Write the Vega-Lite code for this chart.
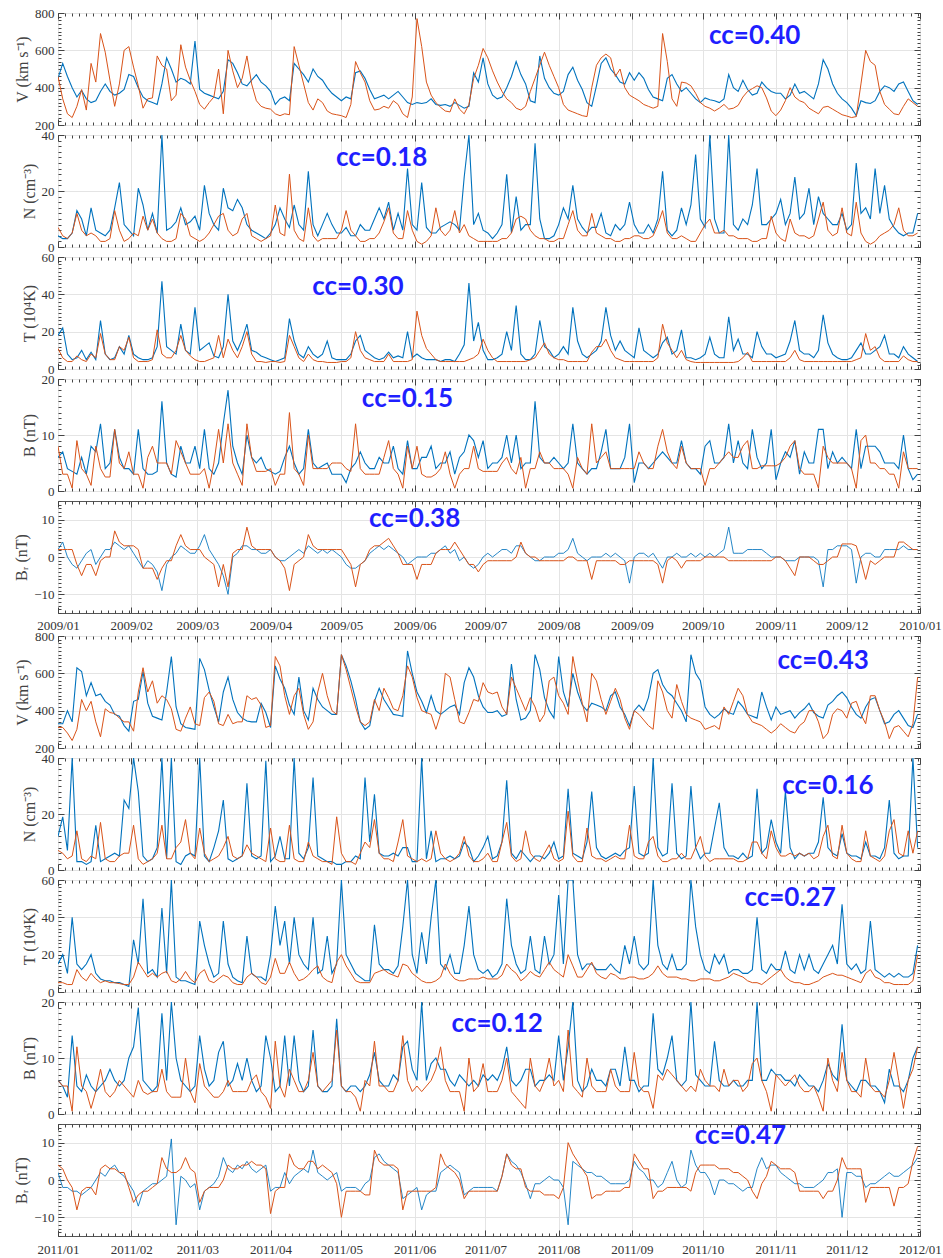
{
"$schema":"https://vega.github.io/schema/vega-lite/v6.json",
"padding":{"left":13,"top":6,"right":0,"bottom":0},
"background":"white",
"spacing":10,
"bounds":"flush",
"config":{
 "font":"Liberation Serif",
 "view":{"stroke":"#555555","strokeWidth":1},
 "axis":{"labelFont":"Liberation Serif","labelFontSize":13,"labelColor":"#333333","titleFont":"Liberation Serif","titleFontSize":16,"titleFontWeight":"normal","titleColor":"#444444","tickColor":"#444444","gridColor":"#e4e4e4","domain":false,"labelFlush":false,"labelOverlap":false,"labelBound":false,"titlePadding":4}
},
"datasets":{
"a":[
{"t":"2009-01-01","V":450,"v":460,"N":4,"n":7,"T":18,"k":11,"B":6,"b":8,"R":2,"r":2},
{"t":"2009-01-03","V":530,"v":340,"N":3,"n":4,"T":22,"k":6,"B":7,"b":3,"R":4,"r":2},
{"t":"2009-01-05","V":460,"v":260,"N":3,"n":3,"T":8,"k":4,"B":4,"b":3,"R":0,"r":2},
{"t":"2009-01-07","V":400,"v":240,"N":5,"n":5,"T":5,"k":4,"B":3.5,"b":0.5,"R":-2,"r":2},
{"t":"2009-01-09","V":350,"v":300,"N":13,"n":12,"T":6,"k":7,"B":3,"b":9,"R":-3,"r":-2},
{"t":"2009-01-11","V":385,"v":390,"N":10,"n":6,"T":10,"k":5,"B":6,"b":4,"R":-1,"r":-5},
{"t":"2009-01-13","V":340,"v":280,"N":4,"n":4,"T":5,"k":4,"B":3,"b":3,"R":1,"r":-2},
{"t":"2009-01-15","V":320,"v":530,"N":14,"n":5,"T":9,"k":8,"B":8,"b":1,"R":2,"r":-2},
{"t":"2009-01-17","V":330,"v":430,"N":6,"n":4,"T":5,"k":6,"B":7,"b":8,"R":-2,"r":-5},
{"t":"2009-01-19","V":380,"v":690,"N":5,"n":2,"T":26,"k":19,"B":12,"b":4,"R":0,"r":-1},
{"t":"2009-01-21","V":420,"v":590,"N":4,"n":2,"T":8,"k":8,"B":4,"b":2.5,"R":2,"r":0},
{"t":"2009-01-23","V":380,"v":440,"N":6,"n":3,"T":5,"k":5,"B":5,"b":2.5,"R":2,"r":0},
{"t":"2009-01-25","V":360,"v":300,"N":14,"n":13,"T":6,"k":5,"B":11,"b":11,"R":4,"r":7},
{"t":"2009-01-27","V":370,"v":420,"N":23,"n":6,"T":12,"k":12,"B":6,"b":5,"R":3,"r":4},
{"t":"2009-01-29","V":390,"v":600,"N":8,"n":2,"T":8,"k":10,"B":4,"b":4,"R":2,"r":3},
{"t":"2009-01-31","V":470,"v":620,"N":6,"n":3,"T":18,"k":17,"B":4,"b":7,"R":3,"r":3},
{"t":"2009-02-02","V":460,"v":510,"N":4,"n":5,"T":8,"k":6,"B":3,"b":3,"R":1,"r":3},
{"t":"2009-02-04","V":400,"v":410,"N":21,"n":4,"T":6,"k":4,"B":11,"b":3,"R":-1,"r":2},
{"t":"2009-02-06","V":350,"v":290,"N":15,"n":11,"T":5,"k":4,"B":4,"b":0.5,"R":-3,"r":-3},
{"t":"2009-02-08","V":330,"v":340,"N":6,"n":6,"T":5,"k":4,"B":3,"b":6,"R":-1,"r":-3},
{"t":"2009-02-10","V":320,"v":345,"N":12,"n":10,"T":6,"k":5,"B":3,"b":8,"R":-2,"r":-3},
{"t":"2009-02-12","V":310,"v":570,"N":5,"n":5,"T":12,"k":21,"B":3.5,"b":5,"R":-4,"r":-6},
{"t":"2009-02-14","V":420,"v":520,"N":40,"n":3,"T":47,"k":8,"B":16,"b":5,"R":-9,"r":-3},
{"t":"2009-02-16","V":560,"v":500,"N":6,"n":2,"T":12,"k":6,"B":5,"b":5,"R":-2,"r":-1},
{"t":"2009-02-18","V":500,"v":330,"N":7,"n":2,"T":10,"k":6,"B":3,"b":3,"R":0,"r":-1},
{"t":"2009-02-20","V":430,"v":360,"N":9,"n":3,"T":8,"k":10,"B":2.5,"b":9,"R":1,"r":3},
{"t":"2009-02-22","V":450,"v":630,"N":14,"n":12,"T":24,"k":18,"B":8,"b":7,"R":3,"r":6},
{"t":"2009-02-24","V":440,"v":510,"N":8,"n":10,"T":10,"k":10,"B":5,"b":5,"R":2,"r":3},
{"t":"2009-02-26","V":420,"v":440,"N":9,"n":4,"T":8,"k":7,"B":5,"b":3,"R":1,"r":2},
{"t":"2009-02-28","V":650,"v":380,"N":11,"n":3,"T":33,"k":5,"B":8,"b":3,"R":1,"r":2},
{"t":"2009-03-02","V":390,"v":310,"N":6,"n":2,"T":10,"k":4,"B":4,"b":3,"R":3,"r":2},
{"t":"2009-03-04","V":370,"v":285,"N":22,"n":3,"T":12,"k":4,"B":11,"b":4,"R":6,"r":0},
{"t":"2009-03-06","V":360,"v":320,"N":12,"n":5,"T":14,"k":5,"B":4,"b":0.5,"R":2,"r":-1},
{"t":"2009-03-08","V":350,"v":350,"N":8,"n":8,"T":7,"k":6,"B":3,"b":5,"R":0,"r":-2},
{"t":"2009-03-10","V":340,"v":500,"N":6,"n":11,"T":6,"k":18,"B":5,"b":11,"R":-2,"r":-8},
{"t":"2009-03-12","V":380,"v":260,"N":21,"n":12,"T":12,"k":6,"B":12,"b":5,"R":-5,"r":-2},
{"t":"2009-03-14","V":550,"v":600,"N":14,"n":6,"T":40,"k":16,"B":18,"b":12,"R":-10,"r":-8},
{"t":"2009-03-16","V":530,"v":490,"N":13,"n":4,"T":15,"k":10,"B":8,"b":5,"R":0,"r":1},
{"t":"2009-03-18","V":480,"v":400,"N":17,"n":5,"T":10,"k":6,"B":5,"b":3,"R":1,"r":2},
{"t":"2009-03-20","V":420,"v":450,"N":14,"n":10,"T":16,"k":12,"B":3,"b":1,"R":3,"r":2},
{"t":"2009-03-22","V":410,"v":570,"N":8,"n":12,"T":24,"k":20,"B":10,"b":12,"R":3,"r":8},
{"t":"2009-03-24","V":440,"v":420,"N":6,"n":4,"T":10,"k":8,"B":6,"b":6,"R":2,"r":3},
{"t":"2009-03-26","V":470,"v":330,"N":5,"n":3,"T":9,"k":4,"B":5,"b":3.5,"R":2,"r":2},
{"t":"2009-03-28","V":430,"v":300,"N":4,"n":2,"T":7,"k":4,"B":6,"b":3.5,"R":1,"r":2},
{"t":"2009-03-30","V":410,"v":290,"N":3,"n":3,"T":6,"k":3.5,"B":4,"b":3.5,"R":1,"r":2},
{"t":"2009-04-01","V":380,"v":285,"N":5,"n":4,"T":5,"k":4,"B":3.5,"b":4,"R":2,"r":2},
{"t":"2009-04-03","V":310,"v":260,"N":8,"n":15,"T":4,"k":4,"B":3,"b":1,"R":0,"r":0},
{"t":"2009-04-05","V":340,"v":250,"N":14,"n":5,"T":5,"k":3.5,"B":3.5,"b":3,"R":-1,"r":-1},
{"t":"2009-04-07","V":350,"v":260,"N":10,"n":4,"T":6,"k":4,"B":6,"b":3,"R":-1,"r":-3},
{"t":"2009-04-09","V":330,"v":255,"N":7,"n":26,"T":27,"k":18,"B":8,"b":14,"R":0,"r":-9},
{"t":"2009-04-11","V":530,"v":620,"N":15,"n":6,"T":15,"k":12,"B":5,"b":4,"R":1,"r":-2},
{"t":"2009-04-13","V":500,"v":520,"N":8,"n":3,"T":8,"k":6,"B":3,"b":3,"R":2,"r":-1},
{"t":"2009-04-15","V":470,"v":420,"N":6,"n":2,"T":6,"k":4,"B":4,"b":1,"R":1,"r":0},
{"t":"2009-04-17","V":430,"v":320,"N":27,"n":14,"T":12,"k":8,"B":11,"b":10,"R":3,"r":6},
{"t":"2009-04-19","V":500,"v":280,"N":8,"n":4,"T":8,"k":5,"B":5,"b":4,"R":2,"r":3},
{"t":"2009-04-21","V":460,"v":340,"N":4,"n":2,"T":6,"k":4,"B":4,"b":4,"R":1,"r":2},
{"t":"2009-04-23","V":440,"v":320,"N":8,"n":3,"T":8,"k":4,"B":4.5,"b":4,"R":2,"r":2},
{"t":"2009-04-25","V":400,"v":275,"N":12,"n":3,"T":15,"k":3.5,"B":5,"b":4,"R":1,"r":2},
{"t":"2009-04-27","V":370,"v":260,"N":8,"n":3,"T":6,"k":3.5,"B":3,"b":5,"R":2,"r":2},
{"t":"2009-04-29","V":350,"v":255,"N":5,"n":3,"T":5,"k":3.5,"B":3,"b":5,"R":1,"r":2},
{"t":"2009-05-01","V":330,"v":250,"N":5,"n":6,"T":5,"k":4,"B":3,"b":5,"R":0,"r":2},
{"t":"2009-05-03","V":350,"v":240,"N":7,"n":13,"T":5,"k":4,"B":1.5,"b":4,"R":-2,"r":0},
{"t":"2009-05-05","V":340,"v":310,"N":4,"n":6,"T":8,"k":6,"B":4,"b":3.5,"R":-3,"r":-2},
{"t":"2009-05-07","V":480,"v":540,"N":4,"n":4,"T":15,"k":20,"B":5,"b":12,"R":-3,"r":-8},
{"t":"2009-05-09","V":490,"v":480,"N":8,"n":2,"T":18,"k":10,"B":7,"b":4,"R":-2,"r":-2},
{"t":"2009-05-11","V":450,"v":430,"N":6,"n":2,"T":10,"k":6,"B":5,"b":3,"R":-1,"r":-1},
{"t":"2009-05-13","V":390,"v":330,"N":6,"n":3,"T":8,"k":5,"B":4,"b":3,"R":1,"r":2},
{"t":"2009-05-15","V":340,"v":280,"N":10,"n":3,"T":6,"k":4,"B":4,"b":3,"R":2,"r":3},
{"t":"2009-05-17","V":350,"v":285,"N":14,"n":5,"T":5,"k":4,"B":6,"b":3,"R":3,"r":3},
{"t":"2009-05-19","V":360,"v":300,"N":10,"n":9,"T":6,"k":4,"B":5,"b":6,"R":2,"r":4},
{"t":"2009-05-21","V":340,"v":290,"N":16,"n":14,"T":9,"k":8,"B":5,"b":9,"R":3,"r":5},
{"t":"2009-05-23","V":360,"v":330,"N":6,"n":5,"T":6,"k":4,"B":8,"b":4,"R":2,"r":3},
{"t":"2009-05-25","V":380,"v":310,"N":12,"n":3,"T":7,"k":4,"B":4,"b":3,"R":1,"r":1},
{"t":"2009-05-27","V":350,"v":260,"N":6,"n":3,"T":6,"k":4,"B":3,"b":0.5,"R":0,"r":-2},
{"t":"2009-05-29","V":320,"v":240,"N":28,"n":13,"T":20,"k":4,"B":9,"b":8,"R":-2,"r":-2},
{"t":"2009-05-31","V":310,"v":350,"N":8,"n":6,"T":6,"k":5,"B":4,"b":4,"R":-1,"r":-2},
{"t":"2009-06-02","V":320,"v":770,"N":6,"n":2,"T":8,"k":31,"B":4,"b":8,"R":0,"r":-6},
{"t":"2009-06-04","V":315,"v":620,"N":23,"n":1,"T":6,"k":18,"B":6,"b":3,"R":0,"r":-2},
{"t":"2009-06-06","V":320,"v":430,"N":7,"n":2,"T":5,"k":11,"B":6,"b":2.5,"R":0,"r":-2},
{"t":"2009-06-08","V":340,"v":360,"N":5,"n":4,"T":5,"k":8,"B":8,"b":2.5,"R":1,"r":-2},
{"t":"2009-06-10","V":310,"v":320,"N":5,"n":14,"T":5,"k":5,"B":4,"b":3,"R":1,"r":1},
{"t":"2009-06-12","V":305,"v":295,"N":7,"n":6,"T":4,"k":4,"B":5,"b":4,"R":2,"r":2},
{"t":"2009-06-14","V":310,"v":275,"N":8,"n":4,"T":5,"k":4,"B":5,"b":7,"R":3,"r":2},
{"t":"2009-06-16","V":300,"v":270,"N":9,"n":6,"T":5,"k":4,"B":7,"b":3,"R":1,"r":2},
{"t":"2009-06-18","V":320,"v":340,"N":8,"n":13,"T":4,"k":4,"B":3,"b":0.5,"R":2,"r":4},
{"t":"2009-06-20","V":305,"v":285,"N":6,"n":5,"T":8,"k":4,"B":6,"b":3,"R":-1,"r":2},
{"t":"2009-06-22","V":290,"v":260,"N":25,"n":8,"T":13,"k":4,"B":7,"b":4,"R":0,"r":0},
{"t":"2009-06-24","V":300,"v":310,"N":40,"n":4,"T":46,"k":5,"B":10,"b":4,"R":-2,"r":-2},
{"t":"2009-06-26","V":480,"v":450,"N":8,"n":3,"T":15,"k":6,"B":9,"b":8,"R":-3,"r":-2},
{"t":"2009-06-28","V":430,"v":520,"N":12,"n":2,"T":25,"k":8,"B":6,"b":4,"R":-2,"r":-4},
{"t":"2009-06-30","V":560,"v":610,"N":6,"n":2,"T":10,"k":16,"B":9,"b":3.5,"R":0,"r":-2},
{"t":"2009-07-02","V":420,"v":560,"N":5,"n":2,"T":5,"k":10,"B":4,"b":3.5,"R":1,"r":-1},
{"t":"2009-07-04","V":360,"v":490,"N":3,"n":2,"T":5,"k":6,"B":5,"b":3.5,"R":0,"r":-1},
{"t":"2009-07-06","V":340,"v":430,"N":5,"n":2,"T":6,"k":4,"B":5,"b":3.5,"R":1,"r":-1},
{"t":"2009-07-08","V":350,"v":380,"N":8,"n":3,"T":8,"k":4,"B":6,"b":5,"R":2,"r":-1},
{"t":"2009-07-10","V":400,"v":340,"N":26,"n":3,"T":20,"k":4,"B":10,"b":6,"R":2,"r":-1},
{"t":"2009-07-12","V":460,"v":320,"N":5,"n":5,"T":10,"k":4,"B":5,"b":4,"R":1,"r":-1},
{"t":"2009-07-14","V":540,"v":290,"N":18,"n":10,"T":34,"k":4,"B":10,"b":3,"R":3,"r":0},
{"t":"2009-07-16","V":470,"v":280,"N":6,"n":11,"T":8,"k":4,"B":4,"b":6,"R":3,"r":4},
{"t":"2009-07-18","V":420,"v":300,"N":8,"n":10,"T":5,"k":4,"B":5,"b":0.5,"R":1,"r":1},
{"t":"2009-07-20","V":330,"v":380,"N":8,"n":6,"T":5,"k":5,"B":5,"b":4,"R":0,"r":0},
{"t":"2009-07-22","V":320,"v":450,"N":37,"n":4,"T":8,"k":6,"B":16,"b":4,"R":-1,"r":0},
{"t":"2009-07-24","V":570,"v":520,"N":10,"n":3,"T":26,"k":10,"B":6,"b":7,"R":-1,"r":-1},
{"t":"2009-07-26","V":450,"v":590,"N":3,"n":3,"T":12,"k":14,"B":5,"b":5,"R":0,"r":-1},
{"t":"2009-07-28","V":400,"v":520,"N":3,"n":2,"T":10,"k":8,"B":5,"b":5,"R":0,"r":-1},
{"t":"2009-07-30","V":370,"v":460,"N":4,"n":2,"T":6,"k":6,"B":6,"b":4,"R":0,"r":-1},
{"t":"2009-08-01","V":360,"v":400,"N":8,"n":3,"T":8,"k":5,"B":5,"b":4,"R":1,"r":-1},
{"t":"2009-08-03","V":380,"v":310,"N":14,"n":3,"T":12,"k":5,"B":4,"b":4,"R":1,"r":-1},
{"t":"2009-08-05","V":470,"v":280,"N":10,"n":8,"T":8,"k":4,"B":5,"b":3,"R":2,"r":0},
{"t":"2009-08-07","V":510,"v":270,"N":22,"n":13,"T":33,"k":4,"B":12,"b":0.5,"R":5,"r":0},
{"t":"2009-08-09","V":440,"v":260,"N":10,"n":6,"T":15,"k":4,"B":5,"b":6,"R":1,"r":-1},
{"t":"2009-08-11","V":390,"v":250,"N":7,"n":4,"T":8,"k":4,"B":4,"b":4,"R":0,"r":-1},
{"t":"2009-08-13","V":320,"v":245,"N":5,"n":4,"T":6,"k":4,"B":3,"b":3,"R":-1,"r":-1},
{"t":"2009-08-15","V":300,"v":400,"N":7,"n":12,"T":8,"k":9,"B":4,"b":12,"R":0,"r":-6},
{"t":"2009-08-17","V":410,"v":520,"N":7,"n":5,"T":10,"k":12,"B":4,"b":5,"R":0,"r":-1},
{"t":"2009-08-19","V":530,"v":560,"N":12,"n":4,"T":15,"k":12,"B":7,"b":6,"R":0,"r":-1},
{"t":"2009-08-21","V":560,"v":580,"N":5,"n":3,"T":33,"k":16,"B":11,"b":7,"R":1,"r":-1},
{"t":"2009-08-23","V":500,"v":560,"N":4,"n":3,"T":18,"k":10,"B":4,"b":4,"R":0,"r":-1},
{"t":"2009-08-25","V":470,"v":460,"N":8,"n":2,"T":10,"k":6,"B":4,"b":4,"R":1,"r":-1},
{"t":"2009-08-27","V":430,"v":500,"N":6,"n":2,"T":15,"k":5,"B":4,"b":4,"R":0,"r":-2},
{"t":"2009-08-29","V":420,"v":400,"N":8,"n":3,"T":10,"k":4,"B":6,"b":4,"R":-1,"r":-2},
{"t":"2009-08-31","V":480,"v":360,"N":16,"n":3,"T":8,"k":4,"B":12,"b":4,"R":-7,"r":-1},
{"t":"2009-09-02","V":440,"v":345,"N":8,"n":4,"T":6,"k":4,"B":1.5,"b":4,"R":0,"r":-1},
{"t":"2009-09-04","V":480,"v":330,"N":5,"n":4,"T":22,"k":4,"B":5,"b":7,"R":1,"r":-1},
{"t":"2009-09-06","V":450,"v":310,"N":5,"n":3,"T":10,"k":4,"B":5,"b":5,"R":1,"r":-1},
{"t":"2009-09-08","V":390,"v":300,"N":8,"n":3,"T":8,"k":4,"B":4,"b":4,"R":0,"r":-1},
{"t":"2009-09-10","V":350,"v":290,"N":5,"n":4,"T":6,"k":4,"B":5,"b":4,"R":1,"r":-1},
{"t":"2009-09-12","V":340,"v":300,"N":10,"n":8,"T":8,"k":6,"B":6,"b":8,"R":-1,"r":-2},
{"t":"2009-09-14","V":330,"v":690,"N":27,"n":13,"T":14,"k":24,"B":7,"b":11,"R":-3,"r":-7},
{"t":"2009-09-16","V":450,"v":540,"N":6,"n":5,"T":17,"k":14,"B":6,"b":7,"R":0,"r":-1},
{"t":"2009-09-18","V":470,"v":340,"N":4,"n":3,"T":8,"k":10,"B":5,"b":5,"R":0,"r":0},
{"t":"2009-09-20","V":420,"v":300,"N":6,"n":3,"T":10,"k":6,"B":5,"b":4,"R":1,"r":-1},
{"t":"2009-09-22","V":380,"v":430,"N":14,"n":4,"T":21,"k":10,"B":9,"b":8,"R":0,"r":-3},
{"t":"2009-09-24","V":400,"v":425,"N":8,"n":3,"T":6,"k":5,"B":5,"b":5,"R":0,"r":-1},
{"t":"2009-09-26","V":370,"v":410,"N":15,"n":2,"T":6,"k":4,"B":4,"b":4,"R":1,"r":-1},
{"t":"2009-09-28","V":340,"v":370,"N":33,"n":2,"T":5,"k":3.5,"B":4,"b":4,"R":0,"r":-1},
{"t":"2009-09-30","V":320,"v":320,"N":10,"n":5,"T":6,"k":3.5,"B":3,"b":4,"R":1,"r":-1},
{"t":"2009-10-02","V":345,"v":300,"N":7,"n":8,"T":8,"k":3.5,"B":8,"b":1,"R":0,"r":0},
{"t":"2009-10-04","V":335,"v":290,"N":40,"n":10,"T":17,"k":3.5,"B":9,"b":4,"R":1,"r":0},
{"t":"2009-10-06","V":330,"v":275,"N":10,"n":5,"T":8,"k":3.5,"B":5,"b":4,"R":0,"r":0},
{"t":"2009-10-08","V":320,"v":290,"N":5,"n":5,"T":6,"k":3.5,"B":5,"b":5,"R":1,"r":0},
{"t":"2009-10-10","V":340,"v":310,"N":5,"n":6,"T":6,"k":3.5,"B":6,"b":6,"R":2,"r":0},
{"t":"2009-10-12","V":470,"v":285,"N":40,"n":4,"T":28,"k":3.5,"B":12,"b":7,"R":8,"r":-1},
{"t":"2009-10-14","V":400,"v":290,"N":8,"n":4,"T":10,"k":3.5,"B":5,"b":6,"R":1,"r":-1},
{"t":"2009-10-16","V":380,"v":305,"N":6,"n":3,"T":16,"k":4,"B":9,"b":6,"R":1,"r":-1},
{"t":"2009-10-18","V":440,"v":350,"N":10,"n":3,"T":8,"k":6,"B":5,"b":8,"R":1,"r":-1},
{"t":"2009-10-20","V":390,"v":380,"N":8,"n":3,"T":8,"k":9,"B":4,"b":9,"R":2,"r":-1},
{"t":"2009-10-22","V":360,"v":395,"N":15,"n":2,"T":6,"k":4,"B":11,"b":4,"R":2,"r":-1},
{"t":"2009-10-24","V":370,"v":410,"N":28,"n":2,"T":20,"k":4,"B":6,"b":4,"R":2,"r":-1},
{"t":"2009-10-26","V":430,"v":400,"N":8,"n":3,"T":12,"k":4,"B":4,"b":4.5,"R":2,"r":-1},
{"t":"2009-10-28","V":400,"v":345,"N":8,"n":3,"T":8,"k":4,"B":5,"b":4.5,"R":1,"r":-1},
{"t":"2009-10-30","V":380,"v":275,"N":10,"n":11,"T":8,"k":4,"B":11,"b":4.5,"R":0,"r":-1},
{"t":"2009-11-01","V":370,"v":250,"N":12,"n":5,"T":6,"k":4,"B":2,"b":4.5,"R":0,"r":0},
{"t":"2009-11-03","V":370,"v":280,"N":17,"n":3,"T":7,"k":4,"B":5,"b":5,"R":0,"r":0},
{"t":"2009-11-05","V":340,"v":330,"N":8,"n":2,"T":8,"k":4,"B":7,"b":6,"R":-1,"r":-1},
{"t":"2009-11-07","V":360,"v":400,"N":12,"n":10,"T":15,"k":6,"B":6,"b":8,"R":-1,"r":-3},
{"t":"2009-11-09","V":420,"v":350,"N":25,"n":5,"T":26,"k":10,"B":9,"b":9,"R":-1,"r":-5},
{"t":"2009-11-11","V":370,"v":330,"N":10,"n":4,"T":10,"k":5,"B":3,"b":4,"R":0,"r":0},
{"t":"2009-11-13","V":380,"v":320,"N":12,"n":4,"T":8,"k":4,"B":7,"b":3,"R":0,"r":0},
{"t":"2009-11-15","V":360,"v":290,"N":21,"n":3,"T":8,"k":4,"B":5,"b":3,"R":0,"r":0},
{"t":"2009-11-17","V":340,"v":275,"N":8,"n":4,"T":6,"k":4,"B":5,"b":3,"R":0,"r":-1},
{"t":"2009-11-19","V":420,"v":260,"N":18,"n":10,"T":10,"k":4,"B":11,"b":0.5,"R":-1,"r":-2},
{"t":"2009-11-21","V":550,"v":295,"N":12,"n":16,"T":29,"k":4,"B":11,"b":8,"R":-8,"r":-2},
{"t":"2009-11-23","V":500,"v":300,"N":10,"n":6,"T":14,"k":4,"B":4,"b":6,"R":2,"r":-1},
{"t":"2009-11-25","V":420,"v":285,"N":8,"n":4,"T":8,"k":4,"B":7,"b":5,"R":2,"r":0},
{"t":"2009-11-27","V":370,"v":270,"N":8,"n":5,"T":6,"k":4,"B":5,"b":5,"R":3,"r":0},
{"t":"2009-11-29","V":340,"v":255,"N":12,"n":14,"T":5,"k":4,"B":6,"b":5,"R":3,"r":3.5},
{"t":"2009-12-01","V":320,"v":248,"N":6,"n":5,"T":5,"k":4,"B":5,"b":5,"R":3,"r":3.5},
{"t":"2009-12-03","V":290,"v":240,"N":8,"n":4,"T":6,"k":4,"B":4,"b":4,"R":2,"r":3.5},
{"t":"2009-12-05","V":250,"v":245,"N":30,"n":16,"T":10,"k":5,"B":11,"b":0.5,"R":-7,"r":3},
{"t":"2009-12-07","V":330,"v":420,"N":12,"n":5,"T":14,"k":6,"B":4,"b":9,"R":0,"r":-1},
{"t":"2009-12-09","V":320,"v":600,"N":14,"n":2,"T":8,"k":19,"B":8,"b":10,"R":1,"r":-6},
{"t":"2009-12-11","V":315,"v":540,"N":10,"n":1,"T":8,"k":10,"B":8,"b":5,"R":1,"r":-1},
{"t":"2009-12-13","V":330,"v":520,"N":28,"n":2,"T":10,"k":12,"B":8,"b":5,"R":0,"r":-2},
{"t":"2009-12-15","V":380,"v":380,"N":12,"n":4,"T":12,"k":6,"B":7,"b":4,"R":0,"r":-1},
{"t":"2009-12-17","V":410,"v":310,"N":22,"n":5,"T":18,"k":4,"B":5,"b":4,"R":2,"r":0},
{"t":"2009-12-19","V":400,"v":285,"N":10,"n":6,"T":8,"k":4,"B":5,"b":3,"R":2,"r":0},
{"t":"2009-12-21","V":380,"v":260,"N":7,"n":8,"T":8,"k":4,"B":5,"b":3,"R":2,"r":0},
{"t":"2009-12-23","V":420,"v":255,"N":5,"n":14,"T":6,"k":4,"B":4,"b":0.5,"R":2,"r":4},
{"t":"2009-12-25","V":430,"v":300,"N":4,"n":6,"T":12,"k":7,"B":10,"b":7,"R":3,"r":4},
{"t":"2009-12-27","V":380,"v":340,"N":5,"n":4,"T":8,"k":5,"B":4,"b":4,"R":2,"r":3},
{"t":"2009-12-29","V":330,"v":320,"N":5,"n":4,"T":6,"k":4,"B":2,"b":4,"R":2,"r":2},
{"t":"2009-12-31","V":310,"v":300,"N":12,"n":5,"T":4,"k":4,"B":3,"b":4,"R":2,"r":2}
],
"b":[
{"t":"2011-01-01","V":330,"v":310,"N":12,"n":7,"T":15,"k":5,"B":6,"b":6,"R":2,"r":4},
{"t":"2011-01-03","V":330,"v":310,"N":19,"n":6,"T":20,"k":5,"B":5,"b":5,"R":-2,"r":3},
{"t":"2011-01-05","V":400,"v":280,"N":7,"n":4,"T":10,"k":4,"B":3,"b":5,"R":-2,"r":0},
{"t":"2011-01-07","V":340,"v":240,"N":40,"n":5,"T":40,"k":4,"B":14,"b":0.5,"R":-3,"r":-2},
{"t":"2011-01-09","V":630,"v":300,"N":3,"n":14,"T":15,"k":12,"B":5,"b":12,"R":-3,"r":-8},
{"t":"2011-01-11","V":610,"v":460,"N":3,"n":4,"T":12,"k":8,"B":4,"b":5,"R":-4,"r":-3},
{"t":"2011-01-13","V":480,"v":400,"N":2,"n":3,"T":15,"k":6,"B":7,"b":4,"R":-3,"r":-2},
{"t":"2011-01-15","V":550,"v":450,"N":3,"n":5,"T":20,"k":10,"B":5,"b":1,"R":-2,"r":-2},
{"t":"2011-01-17","V":480,"v":340,"N":16,"n":4,"T":10,"k":7,"B":4,"b":4,"R":0,"r":-4},
{"t":"2011-01-19","V":490,"v":260,"N":3,"n":17,"T":7,"k":5,"B":5,"b":8,"R":2,"r":3},
{"t":"2011-01-21","V":450,"v":410,"N":4,"n":4,"T":6,"k":6,"B":6,"b":4,"R":1,"r":4},
{"t":"2011-01-23","V":430,"v":390,"N":5,"n":3,"T":6,"k":5,"B":8,"b":3,"R":3,"r":3},
{"t":"2011-01-25","V":380,"v":385,"N":6,"n":3,"T":5,"k":5,"B":6,"b":4,"R":4,"r":3},
{"t":"2011-01-27","V":370,"v":360,"N":5,"n":5,"T":5,"k":4.5,"B":5,"b":6,"R":2,"r":2},
{"t":"2011-01-29","V":320,"v":340,"N":25,"n":6,"T":4,"k":4,"B":6,"b":5,"R":1,"r":2},
{"t":"2011-01-31","V":290,"v":340,"N":22,"n":6,"T":3,"k":4,"B":10,"b":4,"R":-1,"r":-2},
{"t":"2011-02-02","V":450,"v":290,"N":40,"n":16,"T":28,"k":8,"B":12,"b":3,"R":-3,"r":-6},
{"t":"2011-02-04","V":460,"v":500,"N":28,"n":4,"T":15,"k":16,"B":19,"b":6,"R":-7,"r":-4},
{"t":"2011-02-06","V":610,"v":630,"N":5,"n":2,"T":50,"k":12,"B":6,"b":4,"R":-3,"r":-3},
{"t":"2011-02-08","V":440,"v":500,"N":3,"n":3,"T":10,"k":8,"B":5,"b":3.5,"R":-2,"r":-3},
{"t":"2011-02-10","V":370,"v":560,"N":4,"n":4,"T":12,"k":10,"B":4,"b":4,"R":-1,"r":-2},
{"t":"2011-02-12","V":360,"v":440,"N":8,"n":6,"T":8,"k":8,"B":5,"b":4,"R":-1,"r":-1},
{"t":"2011-02-14","V":350,"v":480,"N":40,"n":16,"T":45,"k":10,"B":18,"b":8,"R":0,"r":6},
{"t":"2011-02-16","V":500,"v":460,"N":4,"n":4,"T":10,"k":11,"B":6,"b":4,"R":1,"r":3},
{"t":"2011-02-18","V":690,"v":410,"N":40,"n":4,"T":60,"k":6,"B":20,"b":3,"R":11,"r":2},
{"t":"2011-02-20","V":420,"v":300,"N":3,"n":8,"T":8,"k":5,"B":10,"b":3,"R":-12,"r":2},
{"t":"2011-02-22","V":330,"v":290,"N":2,"n":10,"T":6,"k":7,"B":6,"b":3,"R":1,"r":3},
{"t":"2011-02-24","V":310,"v":360,"N":5,"n":18,"T":6,"k":11,"B":5,"b":10,"R":0,"r":6},
{"t":"2011-02-26","V":305,"v":420,"N":6,"n":6,"T":5,"k":7,"B":4,"b":4,"R":-2,"r":3},
{"t":"2011-02-28","V":300,"v":330,"N":5,"n":4,"T":4,"k":5,"B":5,"b":2,"R":-1,"r":2},
{"t":"2011-03-02","V":680,"v":320,"N":40,"n":15,"T":38,"k":10,"B":14,"b":9,"R":-8,"r":-6},
{"t":"2011-03-04","V":620,"v":470,"N":5,"n":6,"T":25,"k":12,"B":8,"b":5,"R":-3,"r":-3},
{"t":"2011-03-06","V":510,"v":500,"N":3,"n":3,"T":15,"k":6,"B":5,"b":4,"R":-2,"r":-2},
{"t":"2011-03-08","V":420,"v":450,"N":8,"n":4,"T":8,"k":5,"B":6,"b":3,"R":-1,"r":-2},
{"t":"2011-03-10","V":340,"v":330,"N":14,"n":5,"T":10,"k":7,"B":11,"b":3,"R":1,"r":-2},
{"t":"2011-03-12","V":500,"v":320,"N":25,"n":8,"T":38,"k":9,"B":13,"b":4,"R":6,"r":0},
{"t":"2011-03-14","V":580,"v":380,"N":4,"n":12,"T":15,"k":8,"B":5,"b":6,"R":3,"r":4},
{"t":"2011-03-16","V":460,"v":330,"N":3,"n":5,"T":8,"k":5,"B":6,"b":4,"R":2,"r":3},
{"t":"2011-03-18","V":390,"v":340,"N":4,"n":4,"T":6,"k":4,"B":9,"b":4,"R":4,"r":3},
{"t":"2011-03-20","V":360,"v":340,"N":5,"n":5,"T":5,"k":4,"B":6,"b":4,"R":3,"r":4},
{"t":"2011-03-22","V":345,"v":480,"N":31,"n":9,"T":30,"k":8,"B":10,"b":4,"R":5,"r":4},
{"t":"2011-03-24","V":340,"v":460,"N":5,"n":6,"T":10,"k":10,"B":6,"b":6,"R":3,"r":5},
{"t":"2011-03-26","V":340,"v":470,"N":4,"n":5,"T":8,"k":8,"B":4,"b":7,"R":2,"r":4},
{"t":"2011-03-28","V":440,"v":430,"N":5,"n":4,"T":8,"k":5,"B":5,"b":4,"R":3,"r":4},
{"t":"2011-03-30","V":390,"v":310,"N":39,"n":3,"T":6,"k":4,"B":14,"b":3,"R":4,"r":3},
{"t":"2011-04-01","V":310,"v":320,"N":3,"n":15,"T":20,"k":8,"B":10,"b":1,"R":-3,"r":-9},
{"t":"2011-04-03","V":640,"v":690,"N":5,"n":4,"T":46,"k":18,"B":4,"b":13,"R":-2,"r":-3},
{"t":"2011-04-05","V":570,"v":640,"N":12,"n":3,"T":25,"k":10,"B":5,"b":5,"R":-2,"r":-2},
{"t":"2011-04-07","V":520,"v":480,"N":4,"n":3,"T":38,"k":10,"B":14,"b":3,"R":2,"r":-2},
{"t":"2011-04-09","V":430,"v":380,"N":4,"n":16,"T":15,"k":16,"B":5,"b":8,"R":-1,"r":7},
{"t":"2011-04-11","V":380,"v":480,"N":40,"n":4,"T":40,"k":10,"B":14,"b":6,"R":1,"r":4},
{"t":"2011-04-13","V":580,"v":520,"N":6,"n":3,"T":20,"k":6,"B":6,"b":4,"R":2,"r":3},
{"t":"2011-04-15","V":400,"v":380,"N":4,"n":3,"T":15,"k":7,"B":4,"b":4,"R":3,"r":3},
{"t":"2011-04-17","V":350,"v":300,"N":8,"n":10,"T":12,"k":9,"B":5,"b":6,"R":2,"r":5},
{"t":"2011-04-19","V":520,"v":340,"N":33,"n":5,"T":40,"k":12,"B":15,"b":11,"R":8,"r":5},
{"t":"2011-04-21","V":460,"v":500,"N":5,"n":4,"T":10,"k":14,"B":5,"b":5,"R":2,"r":3},
{"t":"2011-04-23","V":420,"v":600,"N":4,"n":3,"T":12,"k":8,"B":4,"b":4,"R":1,"r":4},
{"t":"2011-04-25","V":400,"v":480,"N":3,"n":3,"T":30,"k":6,"B":4,"b":5,"R":0,"r":3},
{"t":"2011-04-27","V":380,"v":400,"N":3,"n":2,"T":10,"k":5,"B":5,"b":6,"R":1,"r":2},
{"t":"2011-04-29","V":380,"v":380,"N":2,"n":19,"T":15,"k":16,"B":17,"b":15,"R":2,"r":-1},
{"t":"2011-05-01","V":700,"v":700,"N":2,"n":6,"T":60,"k":20,"B":5,"b":5,"R":-3,"r":-10},
{"t":"2011-05-03","V":640,"v":620,"N":3,"n":3,"T":20,"k":14,"B":4,"b":4,"R":-2,"r":-3},
{"t":"2011-05-05","V":560,"v":520,"N":3,"n":3,"T":15,"k":10,"B":5,"b":4,"R":-2,"r":-3},
{"t":"2011-05-07","V":460,"v":420,"N":5,"n":2,"T":10,"k":6,"B":5,"b":3,"R":-2,"r":-3},
{"t":"2011-05-09","V":340,"v":340,"N":4,"n":6,"T":8,"k":5,"B":4,"b":0.5,"R":-3,"r":-3},
{"t":"2011-05-11","V":300,"v":320,"N":33,"n":10,"T":6,"k":5,"B":5,"b":6,"R":-1,"r":-4},
{"t":"2011-05-13","V":320,"v":340,"N":10,"n":8,"T":6,"k":5,"B":7,"b":5,"R":0,"r":-4},
{"t":"2011-05-15","V":450,"v":460,"N":27,"n":18,"T":36,"k":10,"B":11,"b":13,"R":6,"r":8},
{"t":"2011-05-17","V":520,"v":400,"N":6,"n":6,"T":15,"k":11,"B":6,"b":5,"R":7,"r":5},
{"t":"2011-05-19","V":460,"v":520,"N":5,"n":4,"T":12,"k":12,"B":5,"b":5,"R":5,"r":4},
{"t":"2011-05-21","V":420,"v":470,"N":5,"n":4,"T":12,"k":10,"B":5,"b":4,"R":4,"r":4},
{"t":"2011-05-23","V":380,"v":410,"N":6,"n":3,"T":10,"k":9,"B":7,"b":4,"R":3,"r":4},
{"t":"2011-05-25","V":375,"v":400,"N":5,"n":10,"T":14,"k":8,"B":6,"b":6,"R":2,"r":3},
{"t":"2011-05-27","V":370,"v":480,"N":8,"n":18,"T":35,"k":15,"B":12,"b":14,"R":-5,"r":-8},
{"t":"2011-05-29","V":720,"v":640,"N":8,"n":5,"T":60,"k":14,"B":13,"b":6,"R":-4,"r":-3},
{"t":"2011-05-31","V":600,"v":580,"N":3,"n":4,"T":20,"k":10,"B":8,"b":4,"R":-3,"r":-3},
{"t":"2011-06-02","V":500,"v":470,"N":3,"n":3,"T":10,"k":8,"B":6,"b":5,"R":-2,"r":-3},
{"t":"2011-06-04","V":450,"v":400,"N":40,"n":4,"T":32,"k":6,"B":20,"b":4,"R":-8,"r":-3},
{"t":"2011-06-06","V":390,"v":390,"N":4,"n":3,"T":15,"k":5,"B":6,"b":5,"R":-4,"r":-3},
{"t":"2011-06-08","V":480,"v":380,"N":14,"n":4,"T":40,"k":5,"B":9,"b":6,"R":-3,"r":-3},
{"t":"2011-06-10","V":400,"v":300,"N":3,"n":14,"T":60,"k":6,"B":10,"b":8,"R":-3,"r":-2},
{"t":"2011-06-12","V":380,"v":380,"N":4,"n":6,"T":15,"k":8,"B":8,"b":12,"R":2,"r":7},
{"t":"2011-06-14","V":400,"v":600,"N":4,"n":4,"T":12,"k":15,"B":8,"b":6,"R":3,"r":4},
{"t":"2011-06-16","V":420,"v":580,"N":5,"n":3,"T":20,"k":10,"B":6,"b":4,"R":4,"r":3},
{"t":"2011-06-18","V":430,"v":460,"N":4,"n":4,"T":10,"k":7,"B":5,"b":4,"R":3,"r":2},
{"t":"2011-06-20","V":380,"v":340,"N":5,"n":6,"T":10,"k":6,"B":7,"b":4,"R":2,"r":0},
{"t":"2011-06-22","V":550,"v":330,"N":10,"n":12,"T":25,"k":6,"B":6,"b":0.5,"R":-4,"r":-5},
{"t":"2011-06-24","V":630,"v":390,"N":8,"n":5,"T":46,"k":7,"B":5,"b":10,"R":-3,"r":-3},
{"t":"2011-06-26","V":580,"v":460,"N":3,"n":3,"T":20,"k":7,"B":6,"b":4,"R":-2,"r":-3},
{"t":"2011-06-28","V":480,"v":450,"N":5,"n":3,"T":12,"k":7,"B":5,"b":5,"R":-2,"r":-3},
{"t":"2011-06-30","V":420,"v":550,"N":8,"n":4,"T":10,"k":8,"B":7,"b":9,"R":-2,"r":-3},
{"t":"2011-07-02","V":390,"v":500,"N":12,"n":6,"T":12,"k":7,"B":6,"b":4,"R":-2,"r":-3},
{"t":"2011-07-04","V":390,"v":490,"N":4,"n":3,"T":8,"k":7,"B":7,"b":4,"R":-2,"r":-3},
{"t":"2011-07-06","V":400,"v":500,"N":5,"n":3,"T":10,"k":7,"B":6,"b":4,"R":-3,"r":-3},
{"t":"2011-07-08","V":370,"v":420,"N":10,"n":10,"T":15,"k":9,"B":8,"b":6,"R":1,"r":1},
{"t":"2011-07-10","V":380,"v":380,"N":32,"n":17,"T":50,"k":15,"B":12,"b":10,"R":7,"r":7},
{"t":"2011-07-12","V":650,"v":580,"N":6,"n":5,"T":25,"k":12,"B":6,"b":4,"R":5,"r":4},
{"t":"2011-07-14","V":460,"v":520,"N":4,"n":3,"T":15,"k":10,"B":5,"b":3,"R":4,"r":3},
{"t":"2011-07-16","V":350,"v":460,"N":7,"n":4,"T":10,"k":6,"B":6,"b":2,"R":2,"r":3},
{"t":"2011-07-18","V":360,"v":400,"N":5,"n":14,"T":12,"k":8,"B":8,"b":1,"R":-1,"r":-2},
{"t":"2011-07-20","V":400,"v":470,"N":3,"n":6,"T":30,"k":11,"B":8,"b":10,"R":-5,"r":-3},
{"t":"2011-07-22","V":700,"v":420,"N":5,"n":4,"T":12,"k":9,"B":5,"b":5,"R":-1,"r":-3},
{"t":"2011-07-24","V":620,"v":340,"N":5,"n":3,"T":10,"k":8,"B":6,"b":4,"R":-1,"r":-3},
{"t":"2011-07-26","V":470,"v":380,"N":4,"n":6,"T":30,"k":12,"B":6,"b":6,"R":0,"r":-4},
{"t":"2011-07-28","V":400,"v":560,"N":6,"n":9,"T":15,"k":16,"B":7,"b":10,"R":1,"r":-4},
{"t":"2011-07-30","V":360,"v":580,"N":10,"n":4,"T":20,"k":12,"B":6,"b":5,"R":0,"r":-4},
{"t":"2011-08-01","V":690,"v":480,"N":4,"n":3,"T":52,"k":10,"B":14,"b":6,"R":0,"r":-5},
{"t":"2011-08-03","V":500,"v":440,"N":5,"n":4,"T":15,"k":8,"B":6,"b":4,"R":-2,"r":-2},
{"t":"2011-08-05","V":420,"v":380,"N":29,"n":21,"T":60,"k":20,"B":12,"b":15,"R":-12,"r":10},
{"t":"2011-08-07","V":600,"v":690,"N":6,"n":5,"T":60,"k":14,"B":20,"b":5,"R":5,"r":7},
{"t":"2011-08-09","V":500,"v":560,"N":5,"n":3,"T":20,"k":8,"B":6,"b":4,"R":4,"r":5},
{"t":"2011-08-11","V":430,"v":440,"N":4,"n":3,"T":12,"k":8,"B":4,"b":3,"R":3,"r":3},
{"t":"2011-08-13","V":400,"v":340,"N":10,"n":15,"T":15,"k":12,"B":5,"b":10,"R":2,"r":1},
{"t":"2011-08-15","V":440,"v":600,"N":28,"n":5,"T":15,"k":16,"B":8,"b":5,"R":2,"r":-5},
{"t":"2011-08-17","V":430,"v":560,"N":8,"n":4,"T":12,"k":10,"B":6,"b":4,"R":1,"r":-4},
{"t":"2011-08-19","V":420,"v":460,"N":5,"n":4,"T":12,"k":8,"B":6,"b":4,"R":1,"r":-4},
{"t":"2011-08-21","V":400,"v":380,"N":4,"n":3,"T":12,"k":7,"B":5,"b":4,"R":0,"r":-3},
{"t":"2011-08-23","V":480,"v":450,"N":5,"n":4,"T":15,"k":10,"B":8,"b":8,"R":-1,"r":-3},
{"t":"2011-08-25","V":500,"v":520,"N":6,"n":5,"T":12,"k":9,"B":8,"b":5,"R":-1,"r":-3},
{"t":"2011-08-27","V":420,"v":460,"N":5,"n":4,"T":10,"k":7,"B":5,"b":4,"R":-1,"r":-3},
{"t":"2011-08-29","V":380,"v":360,"N":7,"n":4,"T":25,"k":7,"B":12,"b":4,"R":-1,"r":-2},
{"t":"2011-08-31","V":320,"v":300,"N":8,"n":16,"T":15,"k":8,"B":6,"b":4,"R":0,"r":-2},
{"t":"2011-09-02","V":400,"v":400,"N":30,"n":5,"T":30,"k":8,"B":6,"b":11,"R":5,"r":7},
{"t":"2011-09-04","V":430,"v":380,"N":6,"n":4,"T":15,"k":7,"B":4,"b":5,"R":3,"r":5},
{"t":"2011-09-06","V":400,"v":350,"N":5,"n":4,"T":12,"k":7,"B":5,"b":4,"R":2,"r":3},
{"t":"2011-09-08","V":470,"v":320,"N":6,"n":10,"T":15,"k":8,"B":5,"b":4,"R":0,"r":3},
{"t":"2011-09-10","V":600,"v":300,"N":40,"n":12,"T":60,"k":10,"B":18,"b":1,"R":0,"r":-5},
{"t":"2011-09-12","V":620,"v":560,"N":8,"n":5,"T":25,"k":14,"B":8,"b":7,"R":-2,"r":-3},
{"t":"2011-09-14","V":540,"v":500,"N":5,"n":3,"T":15,"k":10,"B":7,"b":6,"R":-1,"r":-3},
{"t":"2011-09-16","V":500,"v":400,"N":6,"n":3,"T":12,"k":8,"B":10,"b":8,"R":2,"r":-2},
{"t":"2011-09-18","V":480,"v":360,"N":31,"n":4,"T":20,"k":8,"B":14,"b":7,"R":5,"r":-2},
{"t":"2011-09-20","V":440,"v":540,"N":6,"n":4,"T":12,"k":8,"B":6,"b":6,"R":0,"r":-2},
{"t":"2011-09-22","V":400,"v":450,"N":4,"n":6,"T":12,"k":7,"B":5,"b":5,"R":-2,"r":-2},
{"t":"2011-09-24","V":340,"v":380,"N":5,"n":4,"T":15,"k":7,"B":6,"b":4,"R":-1,"r":-2},
{"t":"2011-09-26","V":700,"v":360,"N":30,"n":4,"T":60,"k":6,"B":20,"b":5,"R":8,"r":-3},
{"t":"2011-09-28","V":600,"v":350,"N":8,"n":8,"T":35,"k":6,"B":7,"b":4,"R":4,"r":2},
{"t":"2011-09-30","V":560,"v":340,"N":4,"n":12,"T":20,"k":7,"B":6,"b":8,"R":2,"r":4},
{"t":"2011-10-02","V":420,"v":300,"N":6,"n":5,"T":12,"k":7,"B":5,"b":6,"R":2,"r":4},
{"t":"2011-10-04","V":380,"v":310,"N":6,"n":3,"T":10,"k":7,"B":5,"b":5,"R":0,"r":4},
{"t":"2011-10-06","V":360,"v":320,"N":15,"n":4,"T":20,"k":6,"B":13,"b":5,"R":-4,"r":4},
{"t":"2011-10-08","V":380,"v":300,"N":24,"n":4,"T":15,"k":6,"B":6,"b":4,"R":0,"r":3},
{"t":"2011-10-10","V":410,"v":420,"N":8,"n":4,"T":20,"k":7,"B":5,"b":8,"R":0,"r":3},
{"t":"2011-10-12","V":390,"v":380,"N":5,"n":4,"T":10,"k":8,"B":5,"b":5,"R":-1,"r":3},
{"t":"2011-10-14","V":380,"v":450,"N":5,"n":4,"T":12,"k":10,"B":6,"b":6,"R":-1,"r":2},
{"t":"2011-10-16","V":450,"v":520,"N":4,"n":3,"T":12,"k":9,"B":5,"b":6,"R":-2,"r":2},
{"t":"2011-10-18","V":420,"v":480,"N":6,"n":3,"T":10,"k":8,"B":5,"b":4,"R":-3,"r":1},
{"t":"2011-10-20","V":380,"v":380,"N":4,"n":4,"T":10,"k":6,"B":6,"b":5,"R":-2,"r":0},
{"t":"2011-10-22","V":370,"v":340,"N":5,"n":10,"T":12,"k":5,"B":6,"b":9,"R":-2,"r":-3},
{"t":"2011-10-24","V":360,"v":330,"N":29,"n":10,"T":40,"k":5,"B":20,"b":10,"R":3,"r":-5},
{"t":"2011-10-26","V":500,"v":320,"N":6,"n":6,"T":12,"k":4,"B":6,"b":6,"R":6,"r":-1},
{"t":"2011-10-28","V":420,"v":300,"N":8,"n":4,"T":10,"k":6,"B":6,"b":4,"R":3,"r":1},
{"t":"2011-10-30","V":350,"v":280,"N":18,"n":14,"T":15,"k":8,"B":8,"b":0.5,"R":4,"r":5},
{"t":"2011-11-01","V":420,"v":300,"N":10,"n":8,"T":12,"k":10,"B":7,"b":7,"R":4,"r":4},
{"t":"2011-11-03","V":380,"v":330,"N":6,"n":5,"T":12,"k":12,"B":7,"b":6,"R":2,"r":3},
{"t":"2011-11-05","V":390,"v":310,"N":28,"n":5,"T":22,"k":8,"B":6,"b":5,"R":1,"r":3},
{"t":"2011-11-07","V":400,"v":290,"N":8,"n":6,"T":12,"k":6,"B":6,"b":6,"R":0,"r":3},
{"t":"2011-11-09","V":360,"v":280,"N":4,"n":5,"T":10,"k":5,"B":5,"b":7,"R":-1,"r":2},
{"t":"2011-11-11","V":390,"v":320,"N":6,"n":6,"T":20,"k":5,"B":7,"b":5,"R":-1,"r":-3},
{"t":"2011-11-13","V":410,"v":340,"N":5,"n":5,"T":12,"k":4,"B":6,"b":4,"R":-2,"r":-3},
{"t":"2011-11-15","V":440,"v":400,"N":6,"n":6,"T":20,"k":4,"B":5,"b":4,"R":-2,"r":-3},
{"t":"2011-11-17","V":390,"v":400,"N":6,"n":4,"T":12,"k":5,"B":5,"b":5,"R":-2,"r":-3},
{"t":"2011-11-19","V":370,"v":340,"N":10,"n":5,"T":10,"k":6,"B":4,"b":3,"R":-1,"r":-3},
{"t":"2011-11-21","V":360,"v":250,"N":26,"n":12,"T":15,"k":8,"B":6,"b":0.5,"R":0,"r":-5},
{"t":"2011-11-23","V":430,"v":280,"N":8,"n":16,"T":20,"k":9,"B":9,"b":10,"R":2,"r":-3},
{"t":"2011-11-25","V":450,"v":380,"N":6,"n":5,"T":25,"k":10,"B":7,"b":6,"R":2,"r":-3},
{"t":"2011-11-27","V":480,"v":410,"N":5,"n":4,"T":15,"k":9,"B":6,"b":4,"R":3,"r":0},
{"t":"2011-11-29","V":500,"v":400,"N":13,"n":16,"T":47,"k":9,"B":16,"b":11,"R":-10,"r":6},
{"t":"2011-12-01","V":470,"v":360,"N":6,"n":6,"T":15,"k":8,"B":6,"b":6,"R":2,"r":3},
{"t":"2011-12-03","V":420,"v":440,"N":5,"n":4,"T":12,"k":7,"B":5,"b":4,"R":2,"r":3},
{"t":"2011-12-05","V":380,"v":450,"N":5,"n":3,"T":15,"k":6,"B":4,"b":4,"R":1,"r":3},
{"t":"2011-12-07","V":360,"v":380,"N":4,"n":3,"T":10,"k":5,"B":6,"b":3,"R":1,"r":3},
{"t":"2011-12-09","V":420,"v":330,"N":10,"n":14,"T":12,"k":10,"B":6,"b":10,"R":-2,"r":-6},
{"t":"2011-12-11","V":460,"v":480,"N":5,"n":5,"T":38,"k":12,"B":5,"b":5,"R":-1,"r":-2},
{"t":"2011-12-13","V":470,"v":480,"N":5,"n":4,"T":12,"k":8,"B":5,"b":4,"R":-1,"r":-2},
{"t":"2011-12-15","V":400,"v":400,"N":4,"n":3,"T":10,"k":7,"B":4,"b":4,"R":0,"r":-2},
{"t":"2011-12-17","V":330,"v":340,"N":8,"n":5,"T":8,"k":5,"B":2,"b":3,"R":1,"r":-2},
{"t":"2011-12-19","V":340,"v":250,"N":25,"n":14,"T":10,"k":5,"B":8,"b":6,"R":2,"r":-2},
{"t":"2011-12-21","V":380,"v":310,"N":6,"n":18,"T":8,"k":4,"B":5,"b":11,"R":1,"r":-7},
{"t":"2011-12-23","V":400,"v":320,"N":4,"n":6,"T":10,"k":4,"B":5,"b":6,"R":1,"r":-2},
{"t":"2011-12-25","V":360,"v":290,"N":5,"n":5,"T":8,"k":4,"B":4,"b":1,"R":2,"r":-2},
{"t":"2011-12-27","V":320,"v":260,"N":5,"n":14,"T":8,"k":4,"B":6,"b":6,"R":3,"r":-1},
{"t":"2011-12-29","V":310,"v":330,"N":40,"n":6,"T":10,"k":6,"B":10,"b":8,"R":4,"r":5},
{"t":"2011-12-31","V":380,"v":580,"N":8,"n":14,"T":25,"k":20,"B":12,"b":12,"R":6,"r":9}
]
},
"vconcat":[
{"width":862,"height":112,"data":{"name":"a"},"layer":[
{"mark":{"type":"line","color":"#0072BD","strokeWidth":1.1,"clip":true},"encoding":{"x":{"field":"t","type":"temporal","scale":{"type":"utc","domain":[{"year":2009,"month":1,"date":1,"utc":true},{"year":2010,"month":1,"date":1,"utc":true}],"nice":false},"axis":{"orient":"bottom","title":null,"tickCount":{"interval":"month","step":1},"labels":false,"grid":true,"tickSize":-6}},"y":{"field":"V","type":"quantitative","scale":{"domain":[200,800],"nice":false,"zero":false},"axis":{"orient":"left","title":"V (km s⁻¹)","values":[200,400,600,800],"grid":true,"tickSize":-6,"labelPadding":10}}}},
{"mark":{"type":"line","color":"#D95319","strokeWidth":1,"clip":true},"encoding":{"x":{"field":"t","type":"temporal","axis":{"orient":"top","title":null,"tickCount":{"interval":"month","step":1},"labels":false,"grid":false,"tickSize":-6}},"y":{"field":"v","type":"quantitative","axis":{"orient":"right","title":null,"values":[200,400,600,800],"labels":false,"grid":false,"tickSize":-6}}}},
{"mark":{"type":"line","opacity":0},"encoding":{"x":{"field":"t","type":"temporal","axis":{"orient":"bottom","title":null,"tickCount":{"interval":"day","step":3},"labels":false,"grid":false,"tickSize":-3}},"y":{"field":"V","type":"quantitative","axis":{"orient":"left","title":null,"tickCount":30,"labels":false,"grid":false,"tickSize":-3}}}},
{"mark":{"type":"line","opacity":0},"encoding":{"x":{"field":"t","type":"temporal","axis":{"orient":"top","title":null,"tickCount":{"interval":"day","step":3},"labels":false,"grid":false,"tickSize":-3}},"y":{"field":"V","type":"quantitative","axis":{"orient":"right","title":null,"tickCount":30,"labels":false,"grid":false,"tickSize":-3}}}},
{"data":{"values":[{"t":"2009-10-23","y":678,"s":"cc=0.40"}]},"mark":{"type":"text","font":"Lato","fontWeight":"bold","fontSize":26,"color":"#1f1fff"},"encoding":{"x":{"field":"t","type":"temporal","axis":null},"y":{"field":"y","type":"quantitative","axis":null},"text":{"field":"s"}}}
],"resolve":{"axis":{"x":"independent","y":"independent"}}},
{"width":862,"height":112,"data":{"name":"a"},"layer":[
{"mark":{"type":"line","color":"#0072BD","strokeWidth":1.1,"clip":true},"encoding":{"x":{"field":"t","type":"temporal","scale":{"type":"utc","domain":[{"year":2009,"month":1,"date":1,"utc":true},{"year":2010,"month":1,"date":1,"utc":true}],"nice":false},"axis":{"orient":"bottom","title":null,"tickCount":{"interval":"month","step":1},"labels":false,"grid":true,"tickSize":-6}},"y":{"field":"N","type":"quantitative","scale":{"domain":[0,40],"nice":false,"zero":false},"axis":{"orient":"left","title":"N (cm⁻³)","values":[0,20,40],"grid":true,"tickSize":-6,"labelPadding":10}}}},
{"mark":{"type":"line","color":"#D95319","strokeWidth":1,"clip":true},"encoding":{"x":{"field":"t","type":"temporal","axis":{"orient":"top","title":null,"tickCount":{"interval":"month","step":1},"labels":false,"grid":false,"tickSize":-6}},"y":{"field":"n","type":"quantitative","axis":{"orient":"right","title":null,"values":[0,20,40],"labels":false,"grid":false,"tickSize":-6}}}},
{"mark":{"type":"line","opacity":0},"encoding":{"x":{"field":"t","type":"temporal","axis":{"orient":"bottom","title":null,"tickCount":{"interval":"day","step":3},"labels":false,"grid":false,"tickSize":-3}},"y":{"field":"N","type":"quantitative","axis":{"orient":"left","title":null,"tickCount":20,"labels":false,"grid":false,"tickSize":-3}}}},
{"mark":{"type":"line","opacity":0},"encoding":{"x":{"field":"t","type":"temporal","axis":{"orient":"top","title":null,"tickCount":{"interval":"day","step":3},"labels":false,"grid":false,"tickSize":-3}},"y":{"field":"N","type":"quantitative","axis":{"orient":"right","title":null,"tickCount":20,"labels":false,"grid":false,"tickSize":-3}}}},
{"data":{"values":[{"t":"2009-05-18","y":31.8,"s":"cc=0.18"}]},"mark":{"type":"text","font":"Lato","fontWeight":"bold","fontSize":26,"color":"#1f1fff"},"encoding":{"x":{"field":"t","type":"temporal","axis":null},"y":{"field":"y","type":"quantitative","axis":null},"text":{"field":"s"}}}
],"resolve":{"axis":{"x":"independent","y":"independent"}}},
{"width":862,"height":112,"data":{"name":"a"},"layer":[
{"mark":{"type":"line","color":"#0072BD","strokeWidth":1.1,"clip":true},"encoding":{"x":{"field":"t","type":"temporal","scale":{"type":"utc","domain":[{"year":2009,"month":1,"date":1,"utc":true},{"year":2010,"month":1,"date":1,"utc":true}],"nice":false},"axis":{"orient":"bottom","title":null,"tickCount":{"interval":"month","step":1},"labels":false,"grid":true,"tickSize":-6}},"y":{"field":"T","type":"quantitative","scale":{"domain":[0,60],"nice":false,"zero":false},"axis":{"orient":"left","title":"T (10⁴K)","values":[0,20,40,60],"grid":true,"tickSize":-6,"labelPadding":10}}}},
{"mark":{"type":"line","color":"#D95319","strokeWidth":1,"clip":true},"encoding":{"x":{"field":"t","type":"temporal","axis":{"orient":"top","title":null,"tickCount":{"interval":"month","step":1},"labels":false,"grid":false,"tickSize":-6}},"y":{"field":"k","type":"quantitative","axis":{"orient":"right","title":null,"values":[0,20,40,60],"labels":false,"grid":false,"tickSize":-6}}}},
{"mark":{"type":"line","opacity":0},"encoding":{"x":{"field":"t","type":"temporal","axis":{"orient":"bottom","title":null,"tickCount":{"interval":"day","step":3},"labels":false,"grid":false,"tickSize":-3}},"y":{"field":"T","type":"quantitative","axis":{"orient":"left","title":null,"tickCount":30,"labels":false,"grid":false,"tickSize":-3}}}},
{"mark":{"type":"line","opacity":0},"encoding":{"x":{"field":"t","type":"temporal","axis":{"orient":"top","title":null,"tickCount":{"interval":"day","step":3},"labels":false,"grid":false,"tickSize":-3}},"y":{"field":"T","type":"quantitative","axis":{"orient":"right","title":null,"tickCount":30,"labels":false,"grid":false,"tickSize":-3}}}},
{"data":{"values":[{"t":"2009-05-08","y":43.9,"s":"cc=0.30"}]},"mark":{"type":"text","font":"Lato","fontWeight":"bold","fontSize":26,"color":"#1f1fff"},"encoding":{"x":{"field":"t","type":"temporal","axis":null},"y":{"field":"y","type":"quantitative","axis":null},"text":{"field":"s"}}}
],"resolve":{"axis":{"x":"independent","y":"independent"}}},
{"width":862,"height":112,"data":{"name":"a"},"layer":[
{"mark":{"type":"line","color":"#0072BD","strokeWidth":1.1,"clip":true},"encoding":{"x":{"field":"t","type":"temporal","scale":{"type":"utc","domain":[{"year":2009,"month":1,"date":1,"utc":true},{"year":2010,"month":1,"date":1,"utc":true}],"nice":false},"axis":{"orient":"bottom","title":null,"tickCount":{"interval":"month","step":1},"labels":false,"grid":true,"tickSize":-6}},"y":{"field":"B","type":"quantitative","scale":{"domain":[0,20],"nice":false,"zero":false},"axis":{"orient":"left","title":"B (nT)","values":[0,10,20],"grid":true,"tickSize":-6,"labelPadding":10}}}},
{"mark":{"type":"line","color":"#D95319","strokeWidth":1,"clip":true},"encoding":{"x":{"field":"t","type":"temporal","axis":{"orient":"top","title":null,"tickCount":{"interval":"month","step":1},"labels":false,"grid":false,"tickSize":-6}},"y":{"field":"b","type":"quantitative","axis":{"orient":"right","title":null,"values":[0,10,20],"labels":false,"grid":false,"tickSize":-6}}}},
{"mark":{"type":"line","opacity":0},"encoding":{"x":{"field":"t","type":"temporal","axis":{"orient":"bottom","title":null,"tickCount":{"interval":"day","step":3},"labels":false,"grid":false,"tickSize":-3}},"y":{"field":"B","type":"quantitative","axis":{"orient":"left","title":null,"tickCount":20,"labels":false,"grid":false,"tickSize":-3}}}},
{"mark":{"type":"line","opacity":0},"encoding":{"x":{"field":"t","type":"temporal","axis":{"orient":"top","title":null,"tickCount":{"interval":"day","step":3},"labels":false,"grid":false,"tickSize":-3}},"y":{"field":"B","type":"quantitative","axis":{"orient":"right","title":null,"tickCount":20,"labels":false,"grid":false,"tickSize":-3}}}},
{"data":{"values":[{"t":"2009-05-29","y":16.5,"s":"cc=0.15"}]},"mark":{"type":"text","font":"Lato","fontWeight":"bold","fontSize":26,"color":"#1f1fff"},"encoding":{"x":{"field":"t","type":"temporal","axis":null},"y":{"field":"y","type":"quantitative","axis":null},"text":{"field":"s"}}}
],"resolve":{"axis":{"x":"independent","y":"independent"}}},
{"width":862,"height":112,"data":{"name":"a"},"layer":[
{"mark":{"type":"line","color":"#0072BD","strokeWidth":1,"opacity":0.85,"clip":true},"encoding":{"x":{"field":"t","type":"temporal","scale":{"type":"utc","domain":[{"year":2009,"month":1,"date":1,"utc":true},{"year":2010,"month":1,"date":1,"utc":true}],"nice":false},"axis":{"orient":"bottom","title":null,"tickCount":{"interval":"month","step":1},"labels":true,"format":"%Y/%m","grid":true,"tickSize":-6,"labelPadding":12}},"y":{"field":"R","type":"quantitative","scale":{"domain":[-15,15],"nice":false,"zero":false},"axis":{"orient":"left","title":"Bᵣ (nT)","values":[-10,0,10],"grid":true,"tickSize":-6,"labelPadding":10}}}},
{"mark":{"type":"line","color":"#D95319","strokeWidth":1,"clip":true},"encoding":{"x":{"field":"t","type":"temporal","axis":{"orient":"top","title":null,"tickCount":{"interval":"month","step":1},"labels":false,"grid":false,"tickSize":-6}},"y":{"field":"r","type":"quantitative","axis":{"orient":"right","title":null,"values":[-10,0,10],"labels":false,"grid":false,"tickSize":-6}}}},
{"mark":{"type":"line","opacity":0},"encoding":{"x":{"field":"t","type":"temporal","axis":{"orient":"bottom","title":null,"tickCount":{"interval":"day","step":3},"labels":false,"grid":false,"tickSize":-3}},"y":{"field":"R","type":"quantitative","axis":{"orient":"left","title":null,"tickCount":30,"labels":false,"grid":false,"tickSize":-3}}}},
{"mark":{"type":"line","opacity":0},"encoding":{"x":{"field":"t","type":"temporal","axis":{"orient":"top","title":null,"tickCount":{"interval":"day","step":3},"labels":false,"grid":false,"tickSize":-3}},"y":{"field":"R","type":"quantitative","axis":{"orient":"right","title":null,"tickCount":30,"labels":false,"grid":false,"tickSize":-3}}}},
{"data":{"values":[{"t":"2009-06-01","y":10.2,"s":"cc=0.38"}]},"mark":{"type":"text","font":"Lato","fontWeight":"bold","fontSize":26,"color":"#1f1fff"},"encoding":{"x":{"field":"t","type":"temporal","axis":null},"y":{"field":"y","type":"quantitative","axis":null},"text":{"field":"s"}}}
],"resolve":{"axis":{"x":"independent","y":"independent"}}},
{"width":862,"height":3,"data":{"values":[{"z":0}]},"mark":{"type":"point","opacity":0},"encoding":{},"view":{"stroke":null}},
{"width":862,"height":112,"data":{"name":"b"},"layer":[
{"mark":{"type":"line","color":"#0072BD","strokeWidth":1.1,"clip":true},"encoding":{"x":{"field":"t","type":"temporal","scale":{"type":"utc","domain":[{"year":2011,"month":1,"date":1,"utc":true},{"year":2012,"month":1,"date":1,"utc":true}],"nice":false},"axis":{"orient":"bottom","title":null,"tickCount":{"interval":"month","step":1},"labels":false,"grid":true,"tickSize":-6}},"y":{"field":"V","type":"quantitative","scale":{"domain":[200,800],"nice":false,"zero":false},"axis":{"orient":"left","title":"V (km s⁻¹)","values":[200,400,600,800],"grid":true,"tickSize":-6,"labelPadding":10}}}},
{"mark":{"type":"line","color":"#D95319","strokeWidth":1,"clip":true},"encoding":{"x":{"field":"t","type":"temporal","axis":{"orient":"top","title":null,"tickCount":{"interval":"month","step":1},"labels":false,"grid":false,"tickSize":-6}},"y":{"field":"v","type":"quantitative","axis":{"orient":"right","title":null,"values":[200,400,600,800],"labels":false,"grid":false,"tickSize":-6}}}},
{"mark":{"type":"line","opacity":0},"encoding":{"x":{"field":"t","type":"temporal","axis":{"orient":"bottom","title":null,"tickCount":{"interval":"day","step":3},"labels":false,"grid":false,"tickSize":-3}},"y":{"field":"V","type":"quantitative","axis":{"orient":"left","title":null,"tickCount":30,"labels":false,"grid":false,"tickSize":-3}}}},
{"mark":{"type":"line","opacity":0},"encoding":{"x":{"field":"t","type":"temporal","axis":{"orient":"top","title":null,"tickCount":{"interval":"day","step":3},"labels":false,"grid":false,"tickSize":-3}},"y":{"field":"V","type":"quantitative","axis":{"orient":"right","title":null,"tickCount":30,"labels":false,"grid":false,"tickSize":-3}}}},
{"data":{"values":[{"t":"2011-11-21","y":667,"s":"cc=0.43"}]},"mark":{"type":"text","font":"Lato","fontWeight":"bold","fontSize":26,"color":"#1f1fff"},"encoding":{"x":{"field":"t","type":"temporal","axis":null},"y":{"field":"y","type":"quantitative","axis":null},"text":{"field":"s"}}}
],"resolve":{"axis":{"x":"independent","y":"independent"}}},
{"width":862,"height":112,"data":{"name":"b"},"layer":[
{"mark":{"type":"line","color":"#0072BD","strokeWidth":1.1,"clip":true},"encoding":{"x":{"field":"t","type":"temporal","scale":{"type":"utc","domain":[{"year":2011,"month":1,"date":1,"utc":true},{"year":2012,"month":1,"date":1,"utc":true}],"nice":false},"axis":{"orient":"bottom","title":null,"tickCount":{"interval":"month","step":1},"labels":false,"grid":true,"tickSize":-6}},"y":{"field":"N","type":"quantitative","scale":{"domain":[0,40],"nice":false,"zero":false},"axis":{"orient":"left","title":"N (cm⁻³)","values":[0,20,40],"grid":true,"tickSize":-6,"labelPadding":10}}}},
{"mark":{"type":"line","color":"#D95319","strokeWidth":1,"clip":true},"encoding":{"x":{"field":"t","type":"temporal","axis":{"orient":"top","title":null,"tickCount":{"interval":"month","step":1},"labels":false,"grid":false,"tickSize":-6}},"y":{"field":"n","type":"quantitative","axis":{"orient":"right","title":null,"values":[0,20,40],"labels":false,"grid":false,"tickSize":-6}}}},
{"mark":{"type":"line","opacity":0},"encoding":{"x":{"field":"t","type":"temporal","axis":{"orient":"bottom","title":null,"tickCount":{"interval":"day","step":3},"labels":false,"grid":false,"tickSize":-3}},"y":{"field":"N","type":"quantitative","axis":{"orient":"left","title":null,"tickCount":20,"labels":false,"grid":false,"tickSize":-3}}}},
{"mark":{"type":"line","opacity":0},"encoding":{"x":{"field":"t","type":"temporal","axis":{"orient":"top","title":null,"tickCount":{"interval":"day","step":3},"labels":false,"grid":false,"tickSize":-3}},"y":{"field":"N","type":"quantitative","axis":{"orient":"right","title":null,"tickCount":20,"labels":false,"grid":false,"tickSize":-3}}}},
{"data":{"values":[{"t":"2011-11-23","y":30.1,"s":"cc=0.16"}]},"mark":{"type":"text","font":"Lato","fontWeight":"bold","fontSize":26,"color":"#1f1fff"},"encoding":{"x":{"field":"t","type":"temporal","axis":null},"y":{"field":"y","type":"quantitative","axis":null},"text":{"field":"s"}}}
],"resolve":{"axis":{"x":"independent","y":"independent"}}},
{"width":862,"height":112,"data":{"name":"b"},"layer":[
{"mark":{"type":"line","color":"#0072BD","strokeWidth":1.1,"clip":true},"encoding":{"x":{"field":"t","type":"temporal","scale":{"type":"utc","domain":[{"year":2011,"month":1,"date":1,"utc":true},{"year":2012,"month":1,"date":1,"utc":true}],"nice":false},"axis":{"orient":"bottom","title":null,"tickCount":{"interval":"month","step":1},"labels":false,"grid":true,"tickSize":-6}},"y":{"field":"T","type":"quantitative","scale":{"domain":[0,60],"nice":false,"zero":false},"axis":{"orient":"left","title":"T (10⁴K)","values":[0,20,40,60],"grid":true,"tickSize":-6,"labelPadding":10}}}},
{"mark":{"type":"line","color":"#D95319","strokeWidth":1,"clip":true},"encoding":{"x":{"field":"t","type":"temporal","axis":{"orient":"top","title":null,"tickCount":{"interval":"month","step":1},"labels":false,"grid":false,"tickSize":-6}},"y":{"field":"k","type":"quantitative","axis":{"orient":"right","title":null,"values":[0,20,40,60],"labels":false,"grid":false,"tickSize":-6}}}},
{"mark":{"type":"line","opacity":0},"encoding":{"x":{"field":"t","type":"temporal","axis":{"orient":"bottom","title":null,"tickCount":{"interval":"day","step":3},"labels":false,"grid":false,"tickSize":-3}},"y":{"field":"T","type":"quantitative","axis":{"orient":"left","title":null,"tickCount":30,"labels":false,"grid":false,"tickSize":-3}}}},
{"mark":{"type":"line","opacity":0},"encoding":{"x":{"field":"t","type":"temporal","axis":{"orient":"top","title":null,"tickCount":{"interval":"day","step":3},"labels":false,"grid":false,"tickSize":-3}},"y":{"field":"T","type":"quantitative","axis":{"orient":"right","title":null,"tickCount":30,"labels":false,"grid":false,"tickSize":-3}}}},
{"data":{"values":[{"t":"2011-11-07","y":50.4,"s":"cc=0.27"}]},"mark":{"type":"text","font":"Lato","fontWeight":"bold","fontSize":26,"color":"#1f1fff"},"encoding":{"x":{"field":"t","type":"temporal","axis":null},"y":{"field":"y","type":"quantitative","axis":null},"text":{"field":"s"}}}
],"resolve":{"axis":{"x":"independent","y":"independent"}}},
{"width":862,"height":112,"data":{"name":"b"},"layer":[
{"mark":{"type":"line","color":"#0072BD","strokeWidth":1.1,"clip":true},"encoding":{"x":{"field":"t","type":"temporal","scale":{"type":"utc","domain":[{"year":2011,"month":1,"date":1,"utc":true},{"year":2012,"month":1,"date":1,"utc":true}],"nice":false},"axis":{"orient":"bottom","title":null,"tickCount":{"interval":"month","step":1},"labels":false,"grid":true,"tickSize":-6}},"y":{"field":"B","type":"quantitative","scale":{"domain":[0,20],"nice":false,"zero":false},"axis":{"orient":"left","title":"B (nT)","values":[0,10,20],"grid":true,"tickSize":-6,"labelPadding":10}}}},
{"mark":{"type":"line","color":"#D95319","strokeWidth":1,"clip":true},"encoding":{"x":{"field":"t","type":"temporal","axis":{"orient":"top","title":null,"tickCount":{"interval":"month","step":1},"labels":false,"grid":false,"tickSize":-6}},"y":{"field":"b","type":"quantitative","axis":{"orient":"right","title":null,"values":[0,10,20],"labels":false,"grid":false,"tickSize":-6}}}},
{"mark":{"type":"line","opacity":0},"encoding":{"x":{"field":"t","type":"temporal","axis":{"orient":"bottom","title":null,"tickCount":{"interval":"day","step":3},"labels":false,"grid":false,"tickSize":-3}},"y":{"field":"B","type":"quantitative","axis":{"orient":"left","title":null,"tickCount":20,"labels":false,"grid":false,"tickSize":-3}}}},
{"mark":{"type":"line","opacity":0},"encoding":{"x":{"field":"t","type":"temporal","axis":{"orient":"top","title":null,"tickCount":{"interval":"day","step":3},"labels":false,"grid":false,"tickSize":-3}},"y":{"field":"B","type":"quantitative","axis":{"orient":"right","title":null,"tickCount":20,"labels":false,"grid":false,"tickSize":-3}}}},
{"data":{"values":[{"t":"2011-07-06","y":16.1,"s":"cc=0.12"}]},"mark":{"type":"text","font":"Lato","fontWeight":"bold","fontSize":26,"color":"#1f1fff"},"encoding":{"x":{"field":"t","type":"temporal","axis":null},"y":{"field":"y","type":"quantitative","axis":null},"text":{"field":"s"}}}
],"resolve":{"axis":{"x":"independent","y":"independent"}}},
{"width":862,"height":112,"data":{"name":"b"},"layer":[
{"mark":{"type":"line","color":"#0072BD","strokeWidth":1,"opacity":0.85,"clip":true},"encoding":{"x":{"field":"t","type":"temporal","scale":{"type":"utc","domain":[{"year":2011,"month":1,"date":1,"utc":true},{"year":2012,"month":1,"date":1,"utc":true}],"nice":false},"axis":{"orient":"bottom","title":null,"tickCount":{"interval":"month","step":1},"labels":true,"format":"%Y/%m","grid":true,"tickSize":-6,"labelPadding":13}},"y":{"field":"R","type":"quantitative","scale":{"domain":[-15,15],"nice":false,"zero":false},"axis":{"orient":"left","title":"Bᵣ (nT)","values":[-10,0,10],"grid":true,"tickSize":-6,"labelPadding":10}}}},
{"mark":{"type":"line","color":"#D95319","strokeWidth":1,"clip":true},"encoding":{"x":{"field":"t","type":"temporal","axis":{"orient":"top","title":null,"tickCount":{"interval":"month","step":1},"labels":false,"grid":false,"tickSize":-6}},"y":{"field":"r","type":"quantitative","axis":{"orient":"right","title":null,"values":[-10,0,10],"labels":false,"grid":false,"tickSize":-6}}}},
{"mark":{"type":"line","opacity":0},"encoding":{"x":{"field":"t","type":"temporal","axis":{"orient":"bottom","title":null,"tickCount":{"interval":"day","step":3},"labels":false,"grid":false,"tickSize":-3}},"y":{"field":"R","type":"quantitative","axis":{"orient":"left","title":null,"tickCount":30,"labels":false,"grid":false,"tickSize":-3}}}},
{"mark":{"type":"line","opacity":0},"encoding":{"x":{"field":"t","type":"temporal","axis":{"orient":"top","title":null,"tickCount":{"interval":"day","step":3},"labels":false,"grid":false,"tickSize":-3}},"y":{"field":"R","type":"quantitative","axis":{"orient":"right","title":null,"tickCount":30,"labels":false,"grid":false,"tickSize":-3}}}},
{"data":{"values":[{"t":"2011-10-17","y":11.8,"s":"cc=0.47"}]},"mark":{"type":"text","font":"Lato","fontWeight":"bold","fontSize":26,"color":"#1f1fff"},"encoding":{"x":{"field":"t","type":"temporal","axis":null},"y":{"field":"y","type":"quantitative","axis":null},"text":{"field":"s"}}}
],"resolve":{"axis":{"x":"independent","y":"independent"}}}
]
}
